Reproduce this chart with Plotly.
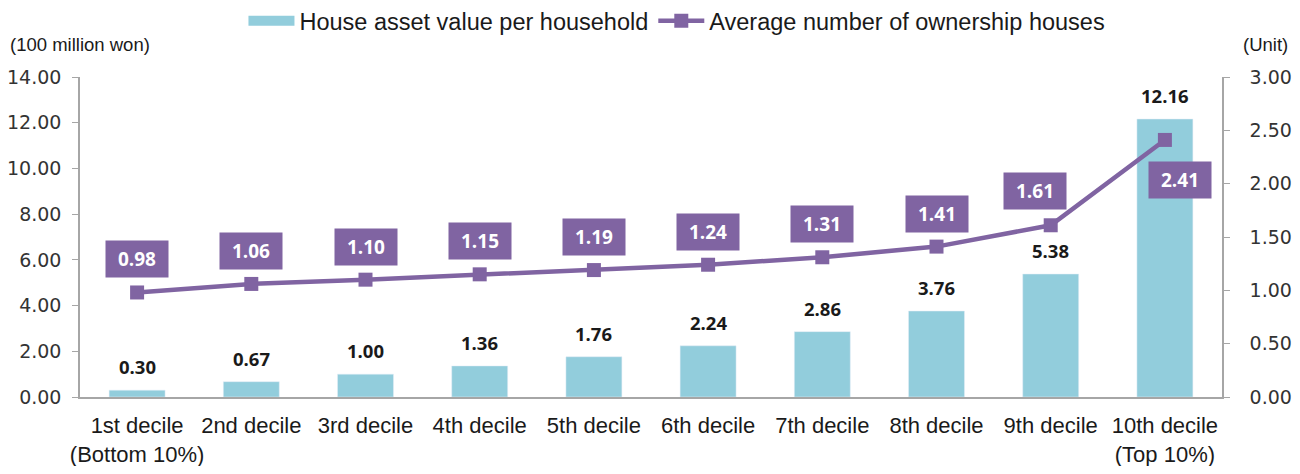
import plotly.graph_objects as go

categories = ["1st decile<br>(Bottom 10%)", "2nd decile", "3rd decile", "4th decile", "5th decile",
              "6th decile", "7th decile", "8th decile", "9th decile", "10th decile<br>(Top 10%)"]
asset_values = [0.30, 0.67, 1.00, 1.36, 1.76, 2.24, 2.86, 3.76, 5.38, 12.16]
avg_houses = [0.98, 1.06, 1.10, 1.15, 1.19, 1.24, 1.31, 1.41, 1.61, 2.41]
left_ticks = [0, 2, 4, 6, 8, 10, 12, 14]
right_ticks = [0, 0.5, 1.0, 1.5, 2.0, 2.5, 3.0]

BAR_COLOR = "#92CDDC"
LINE_COLOR = "#8064A2"
AXIS_COLOR = "#A6A6A6"
FONT = "Liberation Sans, Arial, sans-serif"
TICK_FONT = "DejaVu Sans, Verdana, sans-serif"
LABEL_FONT = "Open Sans, Liberation Sans, sans-serif"

fig = go.Figure()
fig.add_trace(go.Bar(
    x=categories, y=asset_values, name="House asset value per household",
    marker=dict(color=BAR_COLOR), width=0.49, showlegend=False,
))
# legend entry for the bars (wide swatch)
fig.add_trace(go.Scatter(
    x=[None], y=[None], name="House asset value per household", mode="lines",
    line=dict(color=BAR_COLOR, width=13), showlegend=True,
))
fig.add_trace(go.Scatter(
    x=categories, y=avg_houses, name="Average number of ownership houses",
    yaxis="y2", mode="lines+markers",
    line=dict(color=LINE_COLOR, width=4.5),
    marker=dict(symbol="square", size=14, color=LINE_COLOR),
))

annotations = []
for c, v in zip(categories, asset_values):
    annotations.append(dict(
        x=c, y=v, xref="x", yref="y", text=f"<b>{v:.2f}</b>", showarrow=False,
        yanchor="bottom", yshift=9,
        font=dict(family=LABEL_FONT, size=18.5, color="#1a1a1a"),
    ))
for i, (c, v) in enumerate(zip(categories, avg_houses)):
    xs, ys = 0, 33
    if i == 8:
        xs, ys = -16, 34
    if i == 9:
        xs, ys = 15, -40
    annotations.append(dict(
        x=c, y=v, xref="x", yref="y2", text=f"<b>{v:.2f}</b>", showarrow=False,
        xshift=xs, yshift=ys, bgcolor=LINE_COLOR, borderpad=6,
        width=50, height=24,
        font=dict(family=LABEL_FONT, size=19, color="white"),
    ))
annotations.append(dict(x=-0.063, y=1.10, xref="paper", yref="paper", yanchor="middle", xanchor="left",
                        text="(100 million won)", showarrow=False,
                        font=dict(family=FONT, size=18.5, color="#1a1a1a")))
annotations.append(dict(x=1.0596, y=1.10, xref="paper", yref="paper", yanchor="middle", xanchor="right",
                        text="(Unit)", showarrow=False,
                        font=dict(family=FONT, size=18.5, color="#1a1a1a")))

fig.update_layout(
    width=1284, height=458,
    margin=dict(l=72, r=70, t=69, b=69, autoexpand=False),
    paper_bgcolor="white", plot_bgcolor="white",
    font=dict(family=FONT, size=17, color="#1a1a1a"),
    showlegend=True,
    legend=dict(orientation="h", x=0.521, xref="container", xanchor="center",
                y=1 - 13 / 458, yref="container", yanchor="middle",
                font=dict(size=23.5, color="#1a1a1a"), itemwidth=46,
                traceorder="normal"),
    xaxis=dict(showline=True, linecolor=AXIS_COLOR, linewidth=1.5, ticks="", tickangle=0,
               range=[-0.5, len(categories) - 0.5], ticklabelstandoff=8,
               tickfont=dict(size=22, color="#1a1a1a"), showgrid=False),
    yaxis=dict(range=[0, 14], tickvals=left_ticks, ticktext=[f"{t:.2f}" for t in left_ticks],
               showline=True, linecolor=AXIS_COLOR, linewidth=1.5, ticks="outside", ticklen=6,
               tickcolor=AXIS_COLOR, showgrid=False, zeroline=False, ticklabelstandoff=7,
               tickfont=dict(family=TICK_FONT, size=19, color="#333333")),
    yaxis2=dict(range=[0, 3], tickvals=right_ticks, ticktext=[f"{t:.2f}" for t in right_ticks],
                overlaying="y", side="right",
                showline=True, linecolor=AXIS_COLOR, linewidth=1.5, ticks="outside", ticklen=6,
                tickcolor=AXIS_COLOR, showgrid=False, zeroline=False, ticklabelstandoff=16,
                tickfont=dict(family=TICK_FONT, size=19, color="#333333")),
    annotations=annotations,
)

fig.write_html("out.html")
